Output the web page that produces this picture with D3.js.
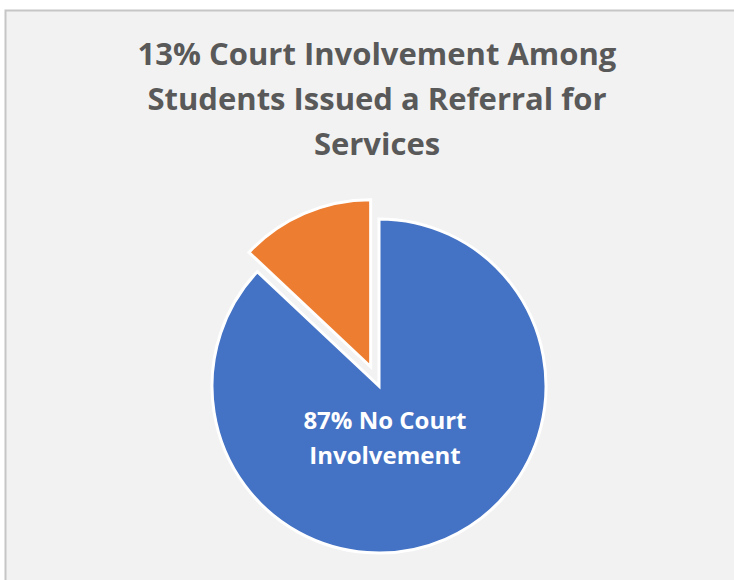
<!DOCTYPE html>
<html lang="en">
<head>
<meta charset="UTF-8">
<title>Court Involvement</title>
<style>
  body { margin: 0; background: #ffffff; }
  svg { display: block; }
</style>
</head>
<body>
<script src="https://cdn.jsdelivr.net/npm/d3@7/dist/d3.min.js"></script>
<script>
  var categories = ['No Court Involvement', 'Court Involvement'];
  var values = [87, 13];
  var colors = ['#4472c4', '#ed7d31'];
  var titleLines = ['13% Court Involvement Among', 'Students Issued a Referral for', 'Services'];
  var labelLines = ['87% No Court', 'Involvement'];

  var width = 734, height = 580;
  var svg = d3.select('body').append('svg')
      .attr('width', width)
      .attr('height', height);

  // chart area, cropped on the right and bottom like the screenshot
  svg.append('rect')
      .attr('x', 5.5).attr('y', 10.5)
      .attr('width', width + 10).attr('height', height + 10)
      .attr('fill', '#f2f2f2')
      .attr('stroke', '#c6c6c6')
      .attr('stroke-width', 2);

  var fontFamily = '"Open Sans", "Noto Sans", sans-serif';

  var title = svg.append('text')
      .attr('text-anchor', 'middle')
      .attr('font-family', fontFamily)
      .attr('font-weight', 'bold')
      .attr('font-size', '31px')
      .attr('fill', '#595959');
  title.selectAll('tspan')
      .data(titleLines)
      .enter()
      .append('tspan')
      .attr('x', 377)
      .attr('y', function(d, i) { return 65 + i * 45; })
      .text(function(d) { return d; });

  var cx = 379, cy = 386, radius = 167, explode = 21;

  var pie = d3.pie().sort(null).value(function(d) { return d; });
  var arcs = pie(values);
  var arc = d3.arc().innerRadius(0).outerRadius(radius);

  var g = svg.append('g')
      .attr('transform', 'translate(' + cx + ',' + cy + ')');

  g.selectAll('path')
      .data(arcs)
      .enter()
      .append('path')
      .attr('d', arc)
      .attr('fill', function(d, i) { return colors[i]; })
      .attr('stroke', '#ffffff')
      .attr('stroke-width', 3)
      .attr('stroke-linejoin', 'miter')
      .attr('transform', function(d, i) {
        if (i === 0) return null;
        var mid = (d.startAngle + d.endAngle) / 2;
        return 'translate(' + (Math.sin(mid) * explode) + ',' + (-Math.cos(mid) * explode) + ')';
      });

  // data label for the big slice
  var labelArc = d3.arc().innerRadius(0).outerRadius(30);
  var c = labelArc.centroid(arcs[0]);
  var label = g.append('text')
      .attr('text-anchor', 'middle')
      .attr('font-family', fontFamily)
      .attr('font-weight', 'bold')
      .attr('font-size', '24px')
      .attr('fill', '#ffffff');
  label.selectAll('tspan')
      .data(labelLines)
      .enter()
      .append('tspan')
      .attr('x', c[0])
      .attr('y', function(d, i) { return c[1] + 29 + i * 35; })
      .text(function(d) { return d; });
</script>
</body>
</html>
